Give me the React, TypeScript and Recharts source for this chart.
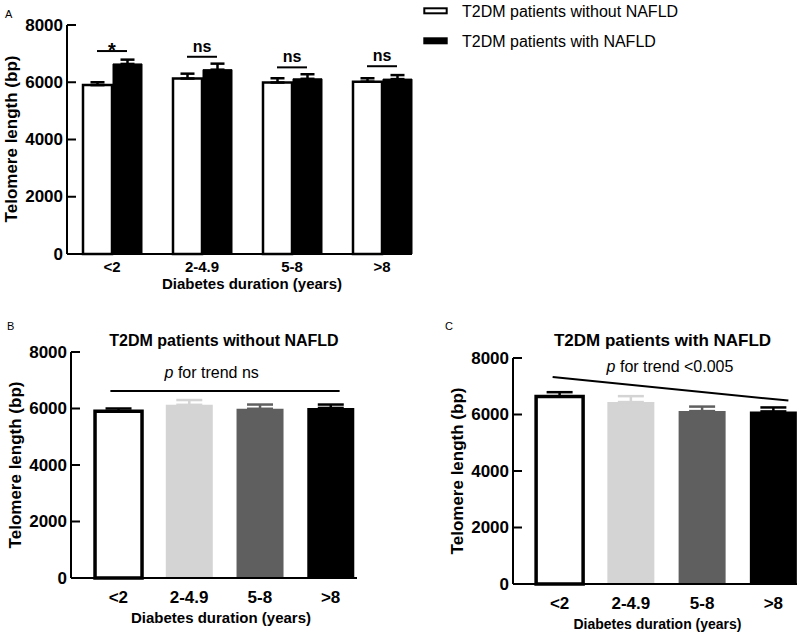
import React from 'react';
import { BarChart, Bar, XAxis, YAxis, ErrorBar, ReferenceLine } from 'recharts';

const FONT = '"Liberation Sans", Arial, Helvetica, sans-serif';

const durations = ['<2', '2-4.9', '5-8', '>8'];
const seriesNames = ['T2DM patients without NAFLD', 'T2DM patients with NAFLD'];
const withoutNafld = [5900, 6130, 5990, 6020];
const withoutNafldErr = [100, 170, 150, 120];
const withNafld = [6640, 6440, 6120, 6110];
const withNafldErr = [150, 210, 160, 140];
const sigLabels = ['*', 'ns', 'ns', 'ns'];
const sigHeights = [7090, 6890, 6520, 6560];
const yTicks = [0, 2000, 4000, 6000, 8000];
const durationColors = ['#ffffff', '#d4d4d4', '#5f5f5f', '#000000'];
const trendB = [6620, 6620];
const trendC = [7305, 6545];
const trendTextB = ' for trend ns';
const trendTextC = ' for trend <0.005';
const yTitle = 'Telomere length (bp)';
const xTitle = 'Diabetes duration (years)';

const dataA = durations.map((d, i) => ({
  duration: d,
  without: withoutNafld[i],
  withoutErr: [0, withoutNafldErr[i]],
  with: withNafld[i],
  withErr: [0, withNafldErr[i]],
}));

const buildPanel = (vals: number[], errs: number[]) =>
  durations.map((d, i) => {
    const row: any = { duration: d };
    durations.forEach((_, j) => {
      row['v' + j] = i === j ? vals[i] : undefined;
      row['e' + j] = i === j ? [0, errs[i]] : undefined;
    });
    return row;
  });

const dataB = buildPanel(withoutNafld, withoutNafldErr);
const dataC = buildPanel(withNafld, withNafldErr);

const makeYTick = (fontSize: number, gap: number, len: number) => (p: any) => {
  const { x, y, payload } = p;
  return (
    <g>
      <text x={x} y={y} textAnchor="end" dominantBaseline="central" fontSize={fontSize} fontWeight={700} fontFamily={FONT} fill="#000">
        {payload.value}
      </text>
      <line x1={x + gap} x2={x + gap + len} y1={y} y2={y} stroke="#000" strokeWidth={2} />
    </g>
  );
};

const sigShape = (label: string) => (props: any) => {
  const { x1, y1 } = props;
  const star = label === '*';
  return (
    <g>
      <line x1={x1 - 15} x2={x1 + 15} y1={y1} y2={y1} stroke="#000" strokeWidth={2} />
      <text x={x1} y={star ? y1 + 6 : y1 - 5} textAnchor="middle" fontSize={star ? 20 : 16} fontWeight={700} fontFamily={FONT} fill="#000">
        {label}
      </text>
    </g>
  );
};

const trendShape = (extL: number, extR: number) => (props: any) => {
  const { x1, y1, x2, y2 } = props;
  const s = (y2 - y1) / (x2 - x1 || 1);
  return <line x1={x1 - extL} y1={y1 - s * extL} x2={x2 + extR} y2={y2 + s * extR} stroke="#000" strokeWidth={2} />;
};

const tickX = (fontSize: number) => ({ fill: '#000', fontSize, fontWeight: 700, fontFamily: FONT });

function PanelA() {
  return (
    <BarChart width={440} height={300} data={dataA} margin={{ top: 25, right: 28, left: 0, bottom: 0 }} barCategoryGap={16} barGap={1}>
      <XAxis dataKey="duration" height={46} padding={{ left: 0, right: -15 }} axisLine={{ stroke: '#000', strokeWidth: 2 }} tickLine={false} tickSize={0} tickMargin={7} tick={tickX(15)} interval={0} />
      <YAxis domain={[0, 8000]} ticks={yTicks} width={67} axisLine={{ stroke: '#000', strokeWidth: 2 }} tickLine={false} tickSize={0} tickMargin={4} tick={makeYTick(17, 4, 9)} interval={0} />
      <Bar dataKey="without" name={seriesNames[0]} fill="#fff" stroke="#000" strokeWidth={2.5} isAnimationActive={false}>
        <ErrorBar dataKey="withoutErr" width={7} stroke="#000" strokeWidth={2.5} direction="y" />
      </Bar>
      <Bar dataKey="with" name={seriesNames[1]} fill="#000" stroke="#000" strokeWidth={1} isAnimationActive={false}>
        <ErrorBar dataKey="withErr" width={7} stroke="#000" strokeWidth={2.5} direction="y" />
      </Bar>
      {durations.map((d, i) => (
        <ReferenceLine key={d} ifOverflow="visible" segment={[{ x: d, y: sigHeights[i] }, { x: d, y: sigHeights[i] }]} shape={sigShape(sigLabels[i])} />
      ))}
    </BarChart>
  );
}

function TrendPanel(props: {
  data: any[];
  top: number;
  xHeight: number;
  yWidth: number;
  right: number;
  padL: number;
  padR: number;
  trend: number[];
  extL: number;
  extR: number;
}) {
  const { data, top, xHeight, yWidth, right, padL, padR, trend, extL, extR } = props;
  return (
    <BarChart width={400} height={334} data={data} margin={{ top, right, left: 0, bottom: 0 }} barCategoryGap="17%">
      <XAxis dataKey="duration" height={xHeight} padding={{ left: padL, right: padR }} axisLine={{ stroke: '#000', strokeWidth: 2 }} tickLine={false} tickSize={0} tickMargin={13} tick={tickX(17)} interval={0} />
      <YAxis domain={[0, 8000]} ticks={yTicks} width={yWidth} axisLine={{ stroke: '#000', strokeWidth: 2 }} tickLine={false} tickSize={0} tickMargin={4} tick={makeYTick(17, 4, 9)} interval={0} />
      {durations.map((d, j) => (
        <Bar
          key={d}
          dataKey={'v' + j}
          stackId="s"
          fill={durationColors[j]}
          stroke={j === 0 ? '#000' : 'none'}
          strokeWidth={j === 0 ? 3.5 : 0}
          isAnimationActive={false}
        >
          <ErrorBar dataKey={'e' + j} width={13} stroke={j === 0 ? '#000' : durationColors[j]} strokeWidth={2.5} direction="y" />
        </Bar>
      ))}
      <ReferenceLine
        ifOverflow="visible"
        segment={[{ x: durations[0], y: trend[0] }, { x: durations[durations.length - 1], y: trend[1] }]}
        shape={trendShape(extL, extR)}
      />
    </BarChart>
  );
}

const T = (p: any) => <text fontFamily={FONT} fill="#000" {...p} />;

export default function App() {
  return (
    <div style={{ position: 'absolute', left: 0, top: 0, width: 800, height: 634, background: '#fff', overflow: 'hidden' }}>
      <div style={{ position: 'absolute', left: 0, top: 0 }}>
        <PanelA />
      </div>
      <div style={{ position: 'absolute', left: 0, top: 300 }}>
        <TrendPanel data={dataB} top={52} xHeight={56} yWidth={71} right={43} padL={12} padR={-9} trend={trendB} extL={8} extR={9} />
      </div>
      <div style={{ position: 'absolute', left: 400, top: 300 }}>
        <TrendPanel data={dataC} top={58} xHeight={50} yWidth={113} right={3} padL={11} padR={-12} trend={trendC} extL={7} extR={15} />
      </div>
      <svg width={800} height={634} style={{ position: 'absolute', left: 0, top: 0, pointerEvents: 'none' }}>
        <T x={5} y={18} fontSize={11}>A</T>
        <T x={7} y={330} fontSize={11}>B</T>
        <T x={445} y={330} fontSize={11}>C</T>

        <rect x={424.3} y={8.3} width={22.4} height={5} fill="#fff" stroke="#000" strokeWidth={2} />
        <rect x={423.3} y={37.3} width={24.4} height={7} fill="#000" />
        <T x={462} y={16.5} fontSize={16}>{seriesNames[0]}</T>
        <T x={462} y={47} fontSize={16}>{seriesNames[1]}</T>

        <T transform="translate(11,139) rotate(-90)" textAnchor="middle" dominantBaseline="central" fontSize={17} fontWeight={700}>{yTitle}</T>
        <T x={252} y={288.5} textAnchor="middle" fontSize={15} fontWeight={700}>{xTitle}</T>

        <T x={224} y={346} textAnchor="middle" fontSize={16} fontWeight={700}>{seriesNames[0]}</T>
        <T x={211.7} y={378} textAnchor="middle" fontSize={16}>
          <tspan fontStyle="italic">p</tspan>
          {trendTextB}
        </T>
        <T transform="translate(15,465) rotate(-90)" textAnchor="middle" dominantBaseline="central" fontSize={17} fontWeight={700}>{yTitle}</T>
        <T x={221} y={623} textAnchor="middle" fontSize={15} fontWeight={700}>{xTitle}</T>

        <T x={662.5} y={346} textAnchor="middle" fontSize={17} fontWeight={700}>{seriesNames[1]}</T>
        <T x={670} y={372} textAnchor="middle" fontSize={16}>
          <tspan fontStyle="italic">p</tspan>
          {trendTextC}
        </T>
        <T transform="translate(457.5,471) rotate(-90)" textAnchor="middle" dominantBaseline="central" fontSize={17} fontWeight={700}>{yTitle}</T>
        <T x={657.5} y={629} textAnchor="middle" fontSize={14} fontWeight={700}>{xTitle}</T>
      </svg>
    </div>
  );
}
